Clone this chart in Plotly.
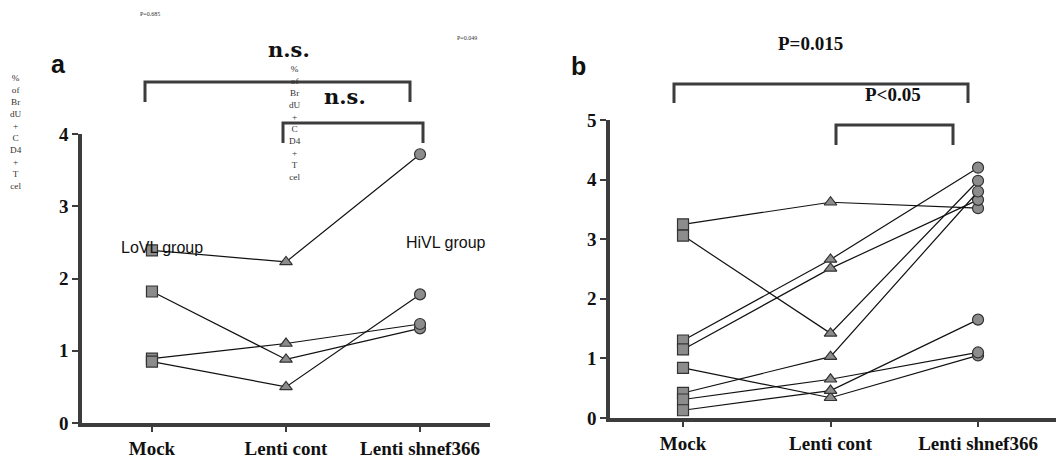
import plotly.graph_objects as go

W, H = 1064, 458
OFF = 8  # page body margin in the browser

categories = ["Mock", "Lenti cont", "Lenti shnef366"]
x_pos = [0, 1, 2]
symbols = ["square", "triangle-up", "circle"]

# Panel a (4 subjects)
a_mock = [2.39, 1.82, 0.89, 0.85]
a_cont = [2.23, 0.88, 1.10, 0.50]
a_shnef = [3.72, 1.31, 1.37, 1.78]

# Panel b (8 subjects)
b_mock = [3.25, 1.30, 1.15, 3.06, 0.42, 0.84, 0.31, 0.13]
b_cont = [3.62, 2.66, 2.51, 1.42, 1.03, 0.34, 0.65, 0.46]
b_shnef = [3.52, 4.20, 3.66, 3.98, 3.80, 1.05, 1.10, 1.65]

a_yticks = [0, 1, 2, 3, 4]
b_yticks = [0, 1, 2, 3, 4, 5]

stack_label = "%<br>of<br>Br<br>dU<br>+<br>C<br>D4<br>+<br>T<br>cel"


def px(x):
    return (x - OFF) / W


def py(y):
    return 1 - (y - OFF) / H


fig = go.Figure()

marker_style = dict(size=11, color="#8c8c8c", line=dict(color="#333333", width=1.2))

for m, c, s in zip(a_mock, a_cont, a_shnef):
    fig.add_trace(go.Scatter(
        x=x_pos, y=[m, c, s], mode="lines+markers",
        line=dict(color="#111111", width=1.2),
        marker=dict(symbol=symbols, **marker_style),
        xaxis="x", yaxis="y", showlegend=False, cliponaxis=False))

for m, c, s in zip(b_mock, b_cont, b_shnef):
    fig.add_trace(go.Scatter(
        x=x_pos, y=[m, c, s], mode="lines+markers",
        line=dict(color="#111111", width=1.2),
        marker=dict(symbol=symbols, **marker_style),
        xaxis="x2", yaxis="y2", showlegend=False, cliponaxis=False))

tickfont = dict(family="Liberation Serif", size=19, color="#111111", weight="bold")
axis_common = dict(showgrid=False, zeroline=False, showline=True, linewidth=3.5,
                   linecolor="#3c3c3c", ticks="outside", tickwidth=2,
                   tickcolor="#3c3c3c", tickfont=tickfont, automargin=False)

fig.update_layout(
    width=W, height=H, margin=dict(l=0, r=0, t=0, b=0, pad=0, autoexpand=False),
    paper_bgcolor="white", plot_bgcolor="white",
    xaxis=dict(domain=[px(82), px(490)], range=[-0.522, 2.522], anchor="y",
               tickvals=x_pos, ticktext=categories, ticklen=5, **axis_common),
    yaxis=dict(domain=[py(423), py(134)], range=[0, 4], anchor="x",
               tickvals=a_yticks, ticklen=6, **axis_common),
    xaxis2=dict(domain=[px(610), 1.0], range=[-0.495, 2.637], anchor="y2",
                tickvals=x_pos, ticktext=categories, ticklen=5, **axis_common),
    yaxis2=dict(domain=[py(418), py(120)], range=[0, 5], anchor="x2",
                tickvals=b_yticks, ticklen=6, **axis_common),
)


def bracket(x0, x1, ytop, ybot):
    path = (f"M {px(x0)},{py(ybot)} L {px(x0)},{py(ytop)} "
            f"L {px(x1)},{py(ytop)} L {px(x1)},{py(ybot)}")
    fig.add_shape(type="path", path=path, xref="paper", yref="paper",
                  line=dict(color="#3c3c3c", width=3))


bracket(145, 410, 82, 102)
bracket(283, 423, 123, 143)
bracket(674, 968, 84, 103)
bracket(836, 953, 125, 145)


def label(x, y, text, size, family="Liberation Serif", weight="bold",
          xanchor="center", yanchor="middle", color="#111111"):
    fig.add_annotation(x=px(x), y=py(y), xref="paper", yref="paper", text=text,
                       showarrow=False, xanchor=xanchor, yanchor=yanchor,
                       font=dict(family=family, size=size, color=color, weight=weight))


label(150, 14, "P=0.685", 6, weight="normal", color="#333333")
label(467, 38, "P=0.049", 6, weight="normal", color="#333333")
label(58, 64, "a", 25, family="Liberation Sans")
label(578, 66, "b", 25, family="Liberation Sans")
label(289, 49, "n.s.", 21, family="DejaVu Serif")
label(345, 97, "n.s.", 21, family="DejaVu Serif")
label(810, 43, "P=0.015", 19)
label(893, 94, "P<0.05", 19)
label(162, 247, "LoVL group", 16, family="Liberation Sans", weight="normal")
label(446, 242, "HiVL group", 16, family="Liberation Sans", weight="normal")
label(8, 71, stack_label, 9.2, weight="normal", xanchor="left", yanchor="top",
      color="#333333")
label(287, 62, stack_label, 9.2, weight="normal", xanchor="left", yanchor="top",
      color="#333333")

fig.write_html("out.html")
